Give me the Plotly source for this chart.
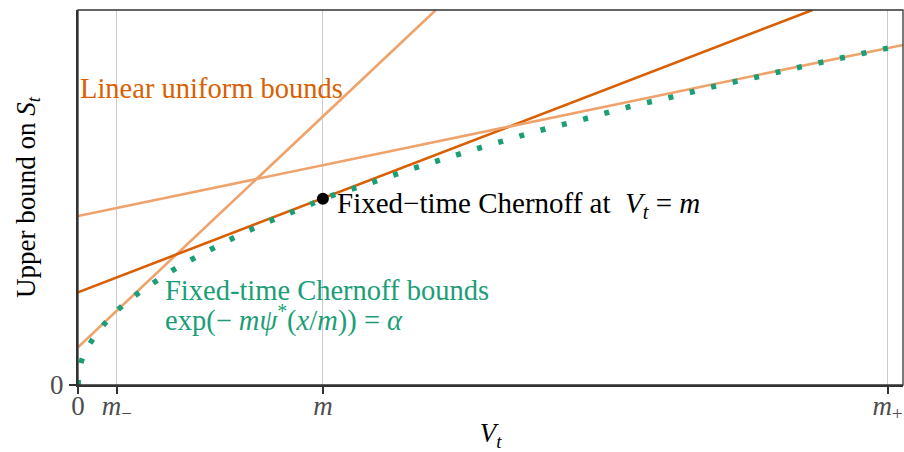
import plotly.graph_objects as go

# ---- data (units of m on both axes) ----
curve_x = [0.0, 0.015, 0.056, 0.113, 0.178, 0.250, 0.328, 0.405, 0.487, 0.569, 0.654, 0.739,
           0.824, 0.909, 1.0, 1.169, 1.348, 1.522, 1.699, 1.879, 2.058, 2.237, 2.419, 2.600,
           2.781, 2.960, 3.143, 3.324, 3.369]
curve_y = [0.0, 0.10, 0.18, 0.255, 0.320, 0.377, 0.430, 0.479, 0.524, 0.566, 0.609, 0.648,
           0.686, 0.718, 0.759, 0.815, 0.876, 0.931, 0.984, 1.036, 1.082, 1.131, 1.173, 1.218,
           1.258, 1.299, 1.339, 1.377, 1.386]

# linear bounds: (intercept, slope)
lin_intercepts = [0.154, 0.378, 0.689]
lin_slopes = [0.941, 0.3837, 0.2071]
lin_colors = ["#EFA36C", "#D95F02", "#EFA36C"]

point_x = [1.0]
point_y = [0.759]

tick_vals = [0.0, 0.159, 1.0, 3.306]
tick_text = ["0", "<i>m</i><sub>−</sub>", "<i>m</i>", "<i>m</i><sub>+</sub>"]

X_MAX = 3.369
Y_MAX = 1.529

FONT = "Liberation Serif"

fig = go.Figure()

for b, s, c in zip(lin_intercepts, lin_slopes, lin_colors):
    x_end = min(X_MAX, (Y_MAX - b) / s)
    xs = [0.0, x_end]
    ys = [b + s * x for x in xs]
    fig.add_trace(go.Scatter(x=xs, y=ys, mode="lines", line=dict(color=c, width=2.6),
                             hoverinfo="skip", showlegend=False))

fig.add_trace(go.Scatter(x=curve_x, y=curve_y, mode="lines",
                         line=dict(color="#1B9E77", width=5.5, dash="5px,17px", shape="spline"),
                         showlegend=False))

fig.add_trace(go.Scatter(x=point_x, y=point_y, mode="markers",
                         marker=dict(color="black", size=12), showlegend=False))

fig.add_annotation(x=0, y=1.21, xref="x", yref="y", xanchor="left", yanchor="middle",
                   text="Linear uniform bounds", showarrow=False,
                   font=dict(family=FONT, size=28.5, color="#D95F02"))
fig.add_annotation(x=1.05, y=0.733, xref="x", yref="y", xanchor="left", yanchor="middle",
                   text="Fixed−time Chernoff at  <i>V</i><sub><i>t</i></sub> = <i>m</i>",
                   showarrow=False, font=dict(family=FONT, size=29, color="black"))
fig.add_annotation(x=0.347, y=0.386, xref="x", yref="y", xanchor="left", yanchor="middle",
                   text="Fixed-time Chernoff bounds", showarrow=False,
                   font=dict(family=FONT, size=28.5, color="#1B9E77"))
fig.add_annotation(x=0.347, y=0.272, xref="x", yref="y", xanchor="left", yanchor="middle",
                   text="exp(− <i>mψ</i><sup>*</sup>(<i>x</i>/<i>m</i>)) = <i>α</i>", showarrow=False,
                   font=dict(family=FONT, size=28.5, color="#1B9E77"))

# frame
fig.add_shape(type="rect", xref="paper", yref="paper", x0=0, y0=0, x1=1, y1=1,
              line=dict(color="#333333", width=1.3), layer="above")

fig.update_layout(
    width=904, height=452,
    margin=dict(l=78, r=1, t=10, b=67, autoexpand=False),
    plot_bgcolor="white", paper_bgcolor="white",
    font=dict(family=FONT, size=27, color="#4D4D4D"),
    showlegend=False,
    xaxis=dict(range=[0, X_MAX], tickvals=tick_vals, ticktext=tick_text, automargin=False,
               showgrid=True, gridcolor="#CCCCCC", gridwidth=1.3, zeroline=False,
               showline=True, linecolor="#333333", linewidth=2.2,
               ticks="outside", ticklen=7, tickwidth=2.2, tickcolor="#333333",
               ticklabelstandoff=-12,
               tickfont=dict(family=FONT, size=27, color="#4D4D4D"),
               title=dict(text="<i>V</i><sub><i>t</i></sub>", standoff=17,
                          font=dict(family=FONT, size=27, color="black"))),
    yaxis=dict(range=[0, Y_MAX], tickvals=[0], ticktext=["0"], automargin=False,
               showgrid=False, zeroline=False,
               showline=True, linecolor="#333333", linewidth=2.2,
               ticks="outside", ticklen=7, tickwidth=2.2, tickcolor="#333333",
               tickfont=dict(family=FONT, size=27, color="#4D4D4D"),
               title=dict(text="Upper bound on <i>S</i><sub><i>t</i></sub>", standoff=7,
                          font=dict(family=FONT, size=27, color="black"))),
)

fig.write_html("out.html", config={"displayModeBar": False},
               post_script="document.body.style.margin='0';")
